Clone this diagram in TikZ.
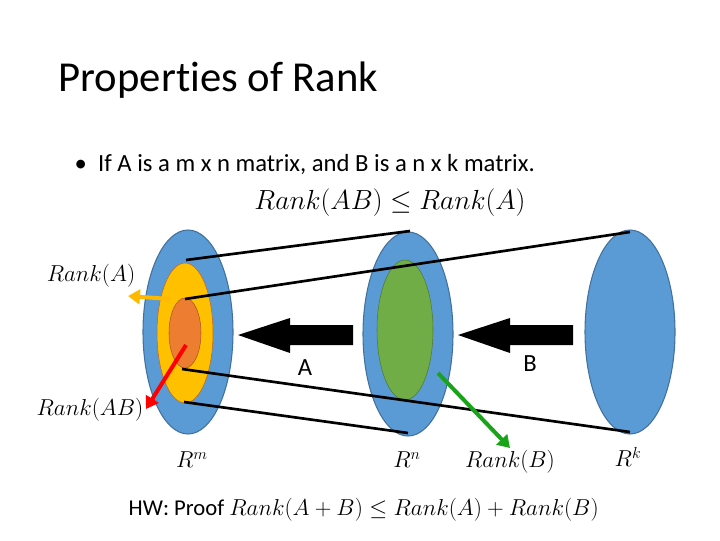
\documentclass[tikz,border=0pt]{standalone}
\usepackage{fontspec}
\setmainfont{Carlito}[Ligatures=NoCommon]
\usetikzlibrary{arrows.meta}
\definecolor{rankblue}{RGB}{91,155,213}
\definecolor{rankyellow}{RGB}{255,192,0}
\definecolor{rankorange}{RGB}{237,125,49}
\definecolor{rankgreen}{RGB}{112,173,71}
\definecolor{rankline}{RGB}{65,113,156}
\begin{document}
\begin{tikzpicture}[x=0.75pt,y=-0.75pt,
    space/.style={fill=rankblue,draw=rankline,line width=0.8pt},
    link/.style={line width=2pt},
    pointer/.style={line width=3pt,-{Triangle[length=9pt,width=11pt]}},
    lbl/.style={font=\fontsize{17.5}{21}\selectfont}]
    \useasboundingbox (0,0) rectangle (720,540);

    % Titles
    \node[anchor=west,font=\fontsize{32}{38}\selectfont] (title) at (54,80) {Properties of Rank};
    \node[anchor=west,font=\fontsize{18.5}{22}\selectfont] (bullet) at (70,165) {\textbullet\ \ If A is a m x n matrix, and B is a n x k matrix.};
    \node[font=\fontsize{20}{24}\selectfont] (claim) at (390,203) {$Rank(AB)\leq Rank(A)$};

    % Spaces
    \fill[space] (188,332) ellipse [x radius=45,y radius=102];
    \fill[space] (408,334) ellipse [x radius=45,y radius=102];
    \fill[space] (630,332) ellipse [x radius=45,y radius=102];
    \filldraw[fill=rankyellow,draw=rankorange!80!black] (185,333) ellipse [x radius=28,y radius=70];
    \filldraw[fill=rankorange,draw=rankorange!70!black] (185,333) ellipse [x radius=16,y radius=35];
    \filldraw[fill=rankgreen,draw=rankgreen!70!black] (405,330) ellipse [x radius=28,y radius=70];

    % Connecting lines
    \draw[link] (186,260) -- (410,231);
    \draw[link] (185,299) -- (630,232);
    \draw[link] (182,369) -- (630,432);
    \draw[link] (184,402) -- (408,433);

    % Maps
    \fill (353,325) -- (290,325) -- (290,318) -- (238,335) -- (290,353) -- (290,345) -- (353,345) -- cycle;
    \fill (573,325) -- (510,325) -- (510,318) -- (458,335) -- (510,353) -- (510,345) -- (573,345) -- cycle;
    \node[font=\fontsize{18.5}{22}\selectfont] (mapA) at (305,368) {A};
    \node[font=\fontsize{18.5}{22}\selectfont] (mapB) at (530,364) {B};

    % Labels
    \node[lbl] (rankA) at (91,276) {$Rank(A)$};
    \node[lbl] (rankAB) at (90,410) {$Rank(AB)$};
    \node[lbl] (rankB) at (510,462) {$Rank(B)$};
    \node[lbl] (Rm) at (192,460) {$R^m$};
    \node[lbl] (Rn) at (407,460) {$R^n$};
    \node[lbl] (Rk) at (628,457) {$R^k$};
    \coordinate (a0) at (170,299);
    \coordinate (a1) at (128,296);
    \coordinate (b0) at (186,345);
    \coordinate (b1) at (146,409);
    \coordinate (c0) at (438,373);
    \coordinate (c1) at (510,448);
    \draw[pointer,rankyellow!90!orange] (a0) -- (a1);
    \draw[pointer,red] (b0) -- (b1);
    \draw[pointer,green!60!black!90] (c0) -- (c1);

    \node[anchor=west,font=\fontsize{17}{20}\selectfont] (hw) at (124,510) {HW: Proof {\fontsize{19}{22}\selectfont$Rank(A+B)\leq Rank(A)+Rank(B)$}};
\end{tikzpicture}
\end{document}
